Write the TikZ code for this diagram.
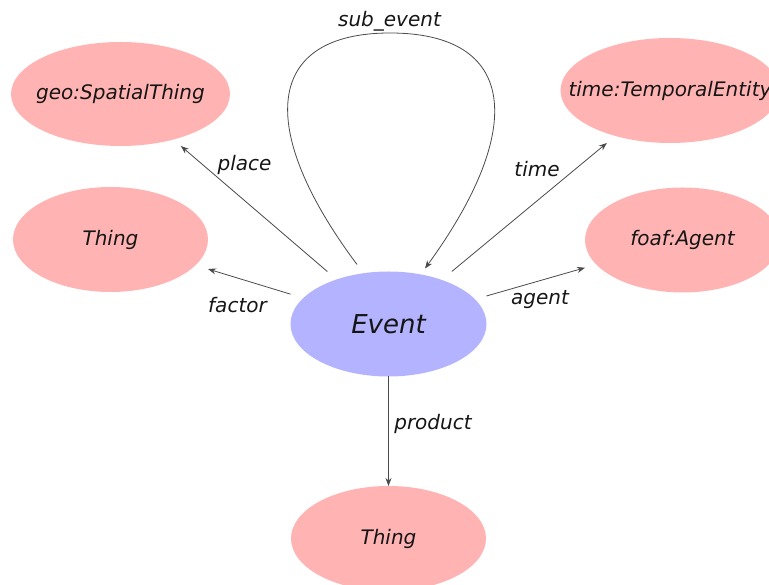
\documentclass[tikz,border=0pt]{standalone}
\usepackage{fontspec}
\setmainfont{DejaVu Sans}
\usetikzlibrary{calc,arrows.meta}
\definecolor{pinkfill}{HTML}{FFB3B3}
\definecolor{bluefill}{HTML}{B3B3FF}
\definecolor{edgecol}{HTML}{4A4A4A}
\definecolor{txtcol}{HTML}{151515}
\tikzset{
  oval/.style={rectangle, inner sep=0pt, outer sep=0pt, text=txtcol,
    font=\fontsize{20}{23}\selectfont\itshape,
    path picture={\fill[#1] let \p1=($(path picture bounding box.north east)-(path picture bounding box.center)$) in
      (path picture bounding box.center) ellipse [x radius=\x1, y radius=\y1];}},
  lbl/.style={inner sep=0pt, text=txtcol, font=\fontsize{20}{23}\selectfont\itshape},
  conn/.style={draw=edgecol, line width=0.8pt, -{Stealth[length=8pt,width=6pt]}}
}
\begin{document}
\begin{tikzpicture}[x=1pt,y=1pt]
\useasboundingbox (0,0) rectangle (769,585);
\node[oval=bluefill, minimum width=196pt, minimum height=105pt, font=\fontsize{26}{30}\selectfont\itshape] (ev) at (388.5,261) {Event};
\node[oval=pinkfill, minimum width=219pt, minimum height=104pt] (geo) at (120.5,491) {geo:SpatialThing};
\node[oval=pinkfill, minimum width=219pt, minimum height=105pt] (tim) at (670,494.5) {time:TemporalEntity};
\node[oval=pinkfill, minimum width=195pt, minimum height=105pt] (thl) at (110.5,345.5) {Thing};
\node[oval=pinkfill, minimum width=195pt, minimum height=105pt] (agt) at (682.5,345) {foaf:Agent};
\node[oval=pinkfill, minimum width=195pt, minimum height=105pt] (thb) at (388.5,46.5) {Thing};

\draw[conn] (ev) -- (geo);
\draw[conn] (ev) -- (tim);
\draw[conn] (ev) -- (thl);
\draw[conn] (ev) -- (agt);
\draw[conn] (ev) -- (thb);
\coordinate (ls) at ([xshift=-31.5pt,yshift=7pt]ev.north);
\coordinate (le) at ([xshift=36.5pt,yshift=3pt]ev.north);
\coordinate (lt) at (390,552);
\draw[conn] (ls) .. controls (255,457) and (265,552) .. (lt)
            .. controls (517,552) and (527,457) .. (le);

\node[lbl] (lsub) at (389.5,564) {sub\_event};
\node[lbl] (lplace) at (244.5,420) {place};
\node[lbl] (ltime) at (537,416) {time};
\node[lbl] (lfactor) at (237.5,280) {factor};
\node[lbl] (lagent) at (540,285) {agent};
\node[lbl] (lprod) at (433,161.5) {product};
\end{tikzpicture}
\end{document}
